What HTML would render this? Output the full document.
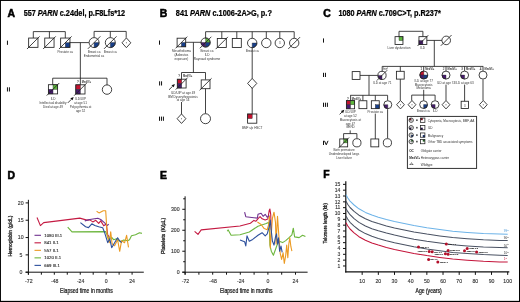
<!DOCTYPE html>
<html><head><meta charset="utf-8"><style>
html,body{margin:0;padding:0;background:#fff;}
body{width:520px;height:302px;overflow:hidden;}
svg{display:block;font-family:"Liberation Sans",sans-serif;will-change:transform;}
</style></head><body>
<svg width="520" height="302" viewBox="0 0 520 302">
<rect x="0" y="0" width="520" height="302" fill="#fff"/>
<text x="7.40" y="16.50" font-size="10.4" text-anchor="start" font-weight="bold" font-style="normal" fill="#000" stroke="#000" stroke-width="0.55">A</text>
<text x="23.70" y="15.90" font-size="8.2" text-anchor="start" font-weight="bold" fill="#000" textLength="101.4" lengthAdjust="spacingAndGlyphs" stroke="#000" stroke-width="0.22">557 <tspan font-style="italic">PARN</tspan> c.24del, p.F8Lfs*12</text>
<text x="159.70" y="16.60" font-size="10.4" text-anchor="start" font-weight="bold" font-style="normal" fill="#000" stroke="#000" stroke-width="0.55">B</text>
<text x="175.80" y="15.90" font-size="8.2" text-anchor="start" font-weight="bold" fill="#000" textLength="96.1" lengthAdjust="spacingAndGlyphs" stroke="#000" stroke-width="0.22">841 <tspan font-style="italic">PARN</tspan> c.1006-2A&gt;G, p.?</text>
<text x="323.20" y="16.80" font-size="10.4" text-anchor="start" font-weight="bold" font-style="normal" fill="#000" stroke="#000" stroke-width="0.55">C</text>
<text x="338.40" y="15.90" font-size="8.2" text-anchor="start" font-weight="bold" fill="#000" textLength="102.4" lengthAdjust="spacingAndGlyphs" stroke="#000" stroke-width="0.22">1080 <tspan font-style="italic">PARN</tspan> c.709C&gt;T, p.R237*</text>
<rect x="6.95" y="40.65" width="1.0" height="4.20" fill="#111"/>
<rect x="6.95" y="87.30" width="1.0" height="4.20" fill="#111"/>
<rect x="8.90" y="87.30" width="1.0" height="4.20" fill="#111"/>
<line x1="33.30" y1="31.60" x2="65.30" y2="31.60" stroke="#222" stroke-width="0.85"/>
<line x1="33.30" y1="31.60" x2="33.30" y2="38.00" stroke="#222" stroke-width="0.85"/>
<line x1="49.40" y1="31.60" x2="49.40" y2="38.00" stroke="#222" stroke-width="0.85"/>
<line x1="65.30" y1="31.60" x2="65.30" y2="38.00" stroke="#222" stroke-width="0.85"/>
<rect x="28.65" y="38.05" width="9.30" height="9.30" fill="none" stroke="#222" stroke-width="0.85"/>
<line x1="26.98" y1="49.02" x2="39.62" y2="36.38" stroke="#222" stroke-width="0.85"/>
<rect x="44.75" y="38.05" width="9.30" height="9.30" fill="none" stroke="#222" stroke-width="0.85"/>
<line x1="43.08" y1="49.02" x2="55.72" y2="36.38" stroke="#222" stroke-width="0.85"/>
<rect x="65.30" y="42.70" width="4.65" height="4.65" fill="#173f8a" stroke="#2a2a2a" stroke-width="0.4"/>
<rect x="60.65" y="38.05" width="9.30" height="9.30" fill="none" stroke="#222" stroke-width="0.85"/>
<line x1="58.98" y1="49.02" x2="71.62" y2="36.38" stroke="#222" stroke-width="0.85"/>
<line x1="69.95" y1="42.60" x2="88.90" y2="42.60" stroke="#222" stroke-width="0.85"/>
<line x1="80.35" y1="42.60" x2="80.35" y2="84.80" stroke="#222" stroke-width="0.85"/>
<line x1="94.10" y1="31.40" x2="126.20" y2="31.40" stroke="#222" stroke-width="0.85"/>
<line x1="94.10" y1="31.40" x2="94.10" y2="37.80" stroke="#222" stroke-width="0.85"/>
<line x1="110.30" y1="31.40" x2="110.30" y2="37.80" stroke="#222" stroke-width="0.85"/>
<line x1="126.20" y1="31.40" x2="126.20" y2="37.80" stroke="#222" stroke-width="0.85"/>
<circle cx="94.10" cy="42.60" r="5.00" fill="#fff" stroke="none"/>
<path d="M94.10,42.60 L99.10,42.60 A5.00,5.00 0 0 1 94.10,47.60 Z" fill="#173f8a" stroke="#2a2a2a" stroke-width="0.4"/>
<circle cx="94.10" cy="42.60" r="5.00" fill="none" stroke="#222" stroke-width="0.85"/>
<line x1="87.85" y1="48.85" x2="100.35" y2="36.35" stroke="#222" stroke-width="0.85"/>
<circle cx="110.30" cy="42.60" r="5.00" fill="#fff" stroke="none"/>
<path d="M110.30,42.60 L115.30,42.60 A5.00,5.00 0 0 1 110.30,47.60 Z" fill="#173f8a" stroke="#2a2a2a" stroke-width="0.4"/>
<circle cx="110.30" cy="42.60" r="5.00" fill="none" stroke="#222" stroke-width="0.85"/>
<line x1="104.05" y1="48.85" x2="116.55" y2="36.35" stroke="#222" stroke-width="0.85"/>
<path d="M126.40,37.90 L130.80,42.80 L126.40,47.70 L122.00,42.80 Z" fill="#fff" stroke="#222" stroke-width="0.85"/>
<circle cx="126.40" cy="42.80" r="0.55" fill="#555"/>
<text x="65.20" y="52.90" font-size="3.05" text-anchor="middle" font-weight="normal" font-style="normal" fill="#333">Prostate ca</text>
<text x="94.10" y="52.60" font-size="3.05" text-anchor="middle" font-weight="normal" font-style="normal" fill="#333">Breast ca</text>
<text x="94.00" y="56.80" font-size="3.05" text-anchor="middle" font-weight="normal" font-style="normal" fill="#333">Endometrial ca</text>
<text x="110.20" y="52.60" font-size="3.05" text-anchor="middle" font-weight="normal" font-style="normal" fill="#333">Breast ca</text>
<line x1="52.70" y1="78.20" x2="107.00" y2="78.20" stroke="#222" stroke-width="0.85"/>
<line x1="52.70" y1="78.20" x2="52.70" y2="84.80" stroke="#222" stroke-width="0.85"/>
<line x1="107.00" y1="78.20" x2="107.00" y2="85.00" stroke="#222" stroke-width="0.85"/>
<rect x="53.00" y="84.70" width="4.60" height="4.60" fill="#5cb63c" stroke="#2a2a2a" stroke-width="0.4"/>
<rect x="48.40" y="89.30" width="4.60" height="4.60" fill="#471b70" stroke="#2a2a2a" stroke-width="0.4"/>
<rect x="48.40" y="84.70" width="9.20" height="9.20" fill="none" stroke="#222" stroke-width="0.85"/>
<line x1="46.74" y1="95.56" x2="59.26" y2="83.04" stroke="#222" stroke-width="0.85"/>
<rect x="75.80" y="84.80" width="4.60" height="4.60" fill="#c4122f" stroke="#2a2a2a" stroke-width="0.4"/>
<rect x="75.80" y="89.40" width="4.60" height="4.60" fill="#471b70" stroke="#2a2a2a" stroke-width="0.4"/>
<rect x="75.80" y="84.80" width="9.20" height="9.20" fill="none" stroke="#222" stroke-width="0.85"/>
<line x1="74.14" y1="95.66" x2="86.66" y2="83.14" stroke="#222" stroke-width="0.85"/>
<circle cx="107.00" cy="89.60" r="4.70" fill="#fff" stroke="none"/>
<circle cx="107.00" cy="89.60" r="4.70" fill="none" stroke="#222" stroke-width="0.85"/>
<text x="77.95" y="82.60" font-size="3.0" text-anchor="middle" font-weight="normal" font-style="normal" fill="#333" stroke="#333" stroke-width="0.08">?</text>
<text x="81.85" y="82.60" font-size="3.0" text-anchor="start" font-weight="bold" font-style="normal" fill="#333" textLength="9.2" lengthAdjust="spacingAndGlyphs">MedV/+</text>
<text x="53.00" y="100.20" font-size="3.05" text-anchor="middle" font-weight="normal" font-style="normal" fill="#333">ILD</text>
<text x="53.00" y="104.10" font-size="3.05" text-anchor="middle" font-weight="normal" font-style="normal" fill="#333">Intellectual disability</text>
<text x="53.00" y="108.00" font-size="3.05" text-anchor="middle" font-weight="normal" font-style="normal" fill="#333">Died at age 49</text>
<text x="80.60" y="100.20" font-size="3.05" text-anchor="middle" font-weight="normal" font-style="normal" fill="#333">ILD/UIP</text>
<text x="80.60" y="104.10" font-size="3.05" text-anchor="middle" font-weight="normal" font-style="normal" fill="#333">at age 51</text>
<text x="80.60" y="108.00" font-size="3.05" text-anchor="middle" font-weight="normal" font-style="normal" fill="#333">Polycythemia at</text>
<text x="80.60" y="112.20" font-size="3.05" text-anchor="middle" font-weight="normal" font-style="normal" fill="#333">age 52</text>
<line x1="67.80" y1="102.90" x2="71.44" y2="99.26" stroke="#111" stroke-width="0.8"/>
<path d="M73.70,97.00 L72.53,100.36 L70.34,98.17 Z" fill="#111"/>
<rect x="159.00" y="40.50" width="1.0" height="4.20" fill="#111"/>
<rect x="159.10" y="81.30" width="1.0" height="4.20" fill="#111"/>
<rect x="161.05" y="81.30" width="1.0" height="4.20" fill="#111"/>
<rect x="159.00" y="116.60" width="1.0" height="4.20" fill="#111"/>
<rect x="160.95" y="116.60" width="1.0" height="4.20" fill="#111"/>
<rect x="162.90" y="116.60" width="1.0" height="4.20" fill="#111"/>
<rect x="181.40" y="42.50" width="4.30" height="4.30" fill="#173f8a" stroke="#2a2a2a" stroke-width="0.4"/>
<rect x="177.10" y="38.20" width="8.60" height="8.60" fill="none" stroke="#222" stroke-width="0.85"/>
<line x1="175.55" y1="48.35" x2="187.25" y2="36.65" stroke="#222" stroke-width="0.85"/>
<line x1="185.70" y1="42.30" x2="201.20" y2="42.30" stroke="#222" stroke-width="0.85"/>
<line x1="193.40" y1="42.30" x2="193.40" y2="72.50" stroke="#222" stroke-width="0.85"/>
<circle cx="205.60" cy="42.50" r="4.60" fill="#fff" stroke="none"/>
<path d="M205.60,42.50 L205.60,37.90 A4.60,4.60 0 0 1 210.20,42.50 Z" fill="#5cb63c" stroke="#2a2a2a" stroke-width="0.4"/>
<path d="M205.60,42.50 L205.60,47.10 A4.60,4.60 0 0 1 201.00,42.50 Z" fill="#471b70" stroke="#2a2a2a" stroke-width="0.4"/>
<path d="M205.60,42.50 L210.20,42.50 A4.60,4.60 0 0 1 205.60,47.10 Z" fill="#173f8a" stroke="#2a2a2a" stroke-width="0.4"/>
<circle cx="205.60" cy="42.50" r="4.60" fill="none" stroke="#222" stroke-width="0.85"/>
<line x1="199.85" y1="48.25" x2="211.35" y2="36.75" stroke="#222" stroke-width="0.85"/>
<line x1="205.60" y1="31.70" x2="294.20" y2="31.70" stroke="#222" stroke-width="0.85"/>
<line x1="205.60" y1="31.70" x2="205.60" y2="38.30" stroke="#222" stroke-width="0.85"/>
<line x1="221.80" y1="31.70" x2="221.80" y2="38.30" stroke="#222" stroke-width="0.85"/>
<line x1="236.80" y1="31.70" x2="236.80" y2="38.30" stroke="#222" stroke-width="0.85"/>
<line x1="252.20" y1="31.70" x2="252.20" y2="38.30" stroke="#222" stroke-width="0.85"/>
<line x1="266.30" y1="31.70" x2="266.30" y2="38.30" stroke="#222" stroke-width="0.85"/>
<line x1="279.80" y1="31.70" x2="279.80" y2="38.30" stroke="#222" stroke-width="0.85"/>
<line x1="294.20" y1="31.70" x2="294.20" y2="38.30" stroke="#222" stroke-width="0.85"/>
<rect x="217.30" y="38.50" width="9.00" height="9.00" fill="none" stroke="#222" stroke-width="0.85"/>
<line x1="215.68" y1="49.12" x2="227.92" y2="36.88" stroke="#222" stroke-width="0.85"/>
<rect x="232.30" y="38.50" width="9.00" height="9.00" fill="none" stroke="#222" stroke-width="0.85"/>
<circle cx="252.20" cy="43.00" r="4.70" fill="#fff" stroke="none"/>
<path d="M252.20,43.00 L256.90,43.00 A4.70,4.70 0 0 1 252.20,47.70 Z" fill="#173f8a" stroke="#2a2a2a" stroke-width="0.4"/>
<circle cx="252.20" cy="43.00" r="4.70" fill="none" stroke="#222" stroke-width="0.85"/>
<circle cx="266.30" cy="43.00" r="4.70" fill="#fff" stroke="none"/>
<circle cx="266.30" cy="43.00" r="4.70" fill="none" stroke="#222" stroke-width="0.85"/>
<circle cx="279.80" cy="43.00" r="4.70" fill="#fff" stroke="none"/>
<circle cx="279.80" cy="43.00" r="4.70" fill="none" stroke="#222" stroke-width="0.85"/>
<text x="279.80" y="44.20" font-size="2.8" text-anchor="middle" font-weight="normal" font-style="normal" fill="#333">3</text>
<circle cx="294.20" cy="43.00" r="4.70" fill="#fff" stroke="none"/>
<circle cx="294.20" cy="43.00" r="4.70" fill="none" stroke="#222" stroke-width="0.85"/>
<line x1="288.32" y1="48.88" x2="300.07" y2="37.12" stroke="#222" stroke-width="0.85"/>
<text x="181.40" y="52.00" font-size="3.05" text-anchor="middle" font-weight="normal" font-style="normal" fill="#333">Mesothelioma</text>
<text x="181.40" y="55.90" font-size="3.05" text-anchor="middle" font-weight="normal" font-style="normal" fill="#333">(Asbestos</text>
<text x="181.40" y="59.80" font-size="3.05" text-anchor="middle" font-weight="normal" font-style="normal" fill="#333">exposure)</text>
<text x="207.00" y="52.00" font-size="3.05" text-anchor="middle" font-weight="normal" font-style="normal" fill="#333">Breast ca</text>
<text x="207.00" y="55.90" font-size="3.05" text-anchor="middle" font-weight="normal" font-style="normal" fill="#333">ILD</text>
<text x="207.00" y="59.80" font-size="3.05" text-anchor="middle" font-weight="normal" font-style="normal" fill="#333">Raynaud syndrome</text>
<text x="252.20" y="52.00" font-size="3.05" text-anchor="middle" font-weight="normal" font-style="normal" fill="#333">Breast ca</text>
<line x1="181.50" y1="72.50" x2="205.50" y2="72.50" stroke="#222" stroke-width="0.85"/>
<line x1="181.50" y1="72.50" x2="181.50" y2="79.20" stroke="#222" stroke-width="0.85"/>
<line x1="205.50" y1="72.50" x2="205.50" y2="79.60" stroke="#222" stroke-width="0.85"/>
<rect x="177.30" y="79.20" width="4.40" height="4.40" fill="#c4122f" stroke="#2a2a2a" stroke-width="0.4"/>
<rect x="177.30" y="83.60" width="4.40" height="4.40" fill="#471b70" stroke="#2a2a2a" stroke-width="0.4"/>
<rect x="177.30" y="79.20" width="8.80" height="8.80" fill="none" stroke="#222" stroke-width="0.85"/>
<line x1="175.72" y1="89.58" x2="187.68" y2="77.62" stroke="#222" stroke-width="0.85"/>
<rect x="201.20" y="79.90" width="8.80" height="8.80" fill="none" stroke="#222" stroke-width="0.85"/>
<line x1="199.62" y1="90.28" x2="211.58" y2="78.32" stroke="#222" stroke-width="0.85"/>
<text x="179.10" y="76.70" font-size="3.0" text-anchor="middle" font-weight="normal" font-style="normal" fill="#333" stroke="#333" stroke-width="0.08">?</text>
<text x="183.00" y="76.70" font-size="3.0" text-anchor="start" font-weight="bold" font-style="normal" fill="#333" textLength="9.2" lengthAdjust="spacingAndGlyphs">MedV/+</text>
<line x1="169.00" y1="89.80" x2="172.62" y2="86.24" stroke="#111" stroke-width="0.8"/>
<path d="M174.90,84.00 L173.70,87.35 L171.53,85.14 Z" fill="#111"/>
<text x="183.00" y="93.60" font-size="3.05" text-anchor="middle" font-weight="normal" font-style="normal" fill="#333">ILD/UIP at age 49</text>
<text x="183.00" y="97.60" font-size="3.05" text-anchor="middle" font-weight="normal" font-style="normal" fill="#333">BM Dyserythropoiesis</text>
<text x="183.00" y="101.40" font-size="3.05" text-anchor="middle" font-weight="normal" font-style="normal" fill="#333">at age 54</text>
<line x1="181.50" y1="102.00" x2="181.50" y2="114.00" stroke="#222" stroke-width="0.85"/>
<line x1="205.50" y1="88.70" x2="205.50" y2="113.60" stroke="#222" stroke-width="0.85"/>
<path d="M181.50,113.95 L185.90,118.70 L181.50,123.45 L177.10,118.70 Z" fill="#fff" stroke="#222" stroke-width="0.85"/>
<circle cx="181.50" cy="118.70" r="0.55" fill="#555"/>
<circle cx="205.50" cy="118.70" r="5.00" fill="#fff" stroke="none"/>
<circle cx="205.50" cy="118.70" r="5.00" fill="none" stroke="#222" stroke-width="0.85"/>
<line x1="252.20" y1="47.70" x2="252.20" y2="78.80" stroke="#222" stroke-width="0.85"/>
<path d="M252.20,78.43 L256.80,83.40 L252.20,88.37 L247.60,83.40 Z" fill="#fff" stroke="#222" stroke-width="0.85"/>
<line x1="252.20" y1="88.00" x2="252.20" y2="114.00" stroke="#222" stroke-width="0.85"/>
<rect x="247.60" y="114.00" width="4.60" height="4.60" fill="#c4122f" stroke="#2a2a2a" stroke-width="0.4"/>
<rect x="247.60" y="114.00" width="9.20" height="9.20" fill="none" stroke="#222" stroke-width="0.85"/>
<text x="252.20" y="129.00" font-size="3.05" text-anchor="middle" font-weight="normal" font-style="normal" fill="#333">BMF s/p HSCT</text>
<rect x="323.00" y="38.40" width="1.0" height="4.20" fill="#111"/>
<rect x="323.00" y="72.80" width="1.0" height="4.20" fill="#111"/>
<rect x="324.95" y="72.80" width="1.0" height="4.20" fill="#111"/>
<rect x="323.00" y="102.70" width="1.0" height="4.20" fill="#111"/>
<rect x="324.95" y="102.70" width="1.0" height="4.20" fill="#111"/>
<rect x="326.90" y="102.70" width="1.0" height="4.20" fill="#111"/>
<rect x="323.00" y="140.80" width="1.0" height="4.20" fill="#111"/>
<path d="M324.45,140.80 L326.25,144.80 L328.05,140.80" fill="none" stroke="#111" stroke-width="1.0"/>
<line x1="399.00" y1="31.30" x2="422.90" y2="31.30" stroke="#222" stroke-width="0.85"/>
<line x1="399.00" y1="31.30" x2="399.00" y2="36.60" stroke="#222" stroke-width="0.85"/>
<line x1="422.90" y1="31.30" x2="422.90" y2="36.60" stroke="#222" stroke-width="0.85"/>
<rect x="399.00" y="36.65" width="3.95" height="3.95" fill="#5cb63c" stroke="#2a2a2a" stroke-width="0.4"/>
<rect x="395.05" y="36.65" width="7.90" height="7.90" fill="none" stroke="#222" stroke-width="0.85"/>
<rect x="418.95" y="40.60" width="3.95" height="3.95" fill="#471b70" stroke="#2a2a2a" stroke-width="0.4"/>
<rect x="418.95" y="36.65" width="7.90" height="7.90" fill="none" stroke="#222" stroke-width="0.85"/>
<line x1="417.53" y1="45.97" x2="428.27" y2="35.23" stroke="#222" stroke-width="0.85"/>
<line x1="426.90" y1="40.40" x2="442.00" y2="40.40" stroke="#222" stroke-width="0.85"/>
<circle cx="446.20" cy="40.40" r="4.30" fill="#fff" stroke="none"/>
<circle cx="446.20" cy="40.40" r="4.30" fill="none" stroke="#222" stroke-width="0.85"/>
<line x1="440.82" y1="45.77" x2="451.57" y2="35.02" stroke="#222" stroke-width="0.85"/>
<line x1="434.30" y1="40.40" x2="434.30" y2="66.40" stroke="#222" stroke-width="0.85"/>
<text x="399.00" y="48.50" font-size="3.05" text-anchor="middle" font-weight="normal" font-style="normal" fill="#333">Liver dysfunction</text>
<text x="422.70" y="48.50" font-size="3.05" text-anchor="middle" font-weight="normal" font-style="normal" fill="#333">ILD</text>
<line x1="382.20" y1="66.40" x2="483.20" y2="66.40" stroke="#222" stroke-width="0.85"/>
<rect x="352.20" y="71.60" width="7.80" height="7.80" fill="none" stroke="#222" stroke-width="0.85"/>
<line x1="360.00" y1="75.40" x2="377.90" y2="75.40" stroke="#222" stroke-width="0.85"/>
<circle cx="382.00" cy="75.40" r="4.10" fill="#fff" stroke="none"/>
<path d="M382.00,75.40 L382.00,79.50 A4.10,4.10 0 0 1 377.90,75.40 Z" fill="#471b70" stroke="#2a2a2a" stroke-width="0.4"/>
<circle cx="382.00" cy="75.40" r="4.10" fill="none" stroke="#222" stroke-width="0.85"/>
<line x1="376.88" y1="80.53" x2="387.12" y2="70.28" stroke="#222" stroke-width="0.85"/>
<line x1="382.20" y1="66.40" x2="382.20" y2="71.10" stroke="#222" stroke-width="0.85"/>
<line x1="369.00" y1="75.40" x2="369.00" y2="95.30" stroke="#222" stroke-width="0.85"/>
<line x1="400.30" y1="66.40" x2="400.30" y2="71.30" stroke="#222" stroke-width="0.85"/>
<rect x="396.40" y="71.30" width="7.80" height="7.80" fill="none" stroke="#222" stroke-width="0.85"/>
<line x1="400.30" y1="79.10" x2="400.30" y2="100.60" stroke="#222" stroke-width="0.85"/>
<line x1="423.70" y1="66.40" x2="423.70" y2="70.90" stroke="#222" stroke-width="0.85"/>
<line x1="446.00" y1="66.40" x2="446.00" y2="70.90" stroke="#222" stroke-width="0.85"/>
<line x1="464.60" y1="66.40" x2="464.60" y2="70.90" stroke="#222" stroke-width="0.85"/>
<line x1="483.00" y1="66.40" x2="483.00" y2="70.90" stroke="#222" stroke-width="0.85"/>
<circle cx="423.80" cy="75.00" r="4.00" fill="#fff" stroke="none"/>
<path d="M423.80,75.00 L419.80,75.00 A4.00,4.00 0 0 1 423.80,71.00 Z" fill="#c4122f" stroke="#2a2a2a" stroke-width="0.4"/>
<path d="M423.80,75.00 L423.80,79.00 A4.00,4.00 0 0 1 419.80,75.00 Z" fill="#471b70" stroke="#2a2a2a" stroke-width="0.4"/>
<path d="M423.80,75.00 L427.80,75.00 A4.00,4.00 0 0 1 423.80,79.00 Z" fill="#173f8a" stroke="#2a2a2a" stroke-width="0.4"/>
<circle cx="423.80" cy="75.00" r="4.00" fill="none" stroke="#222" stroke-width="0.85"/>
<circle cx="446.00" cy="75.10" r="4.00" fill="#fff" stroke="none"/>
<path d="M446.00,75.10 L446.00,79.10 A4.00,4.00 0 0 1 442.00,75.10 Z" fill="#471b70" stroke="#2a2a2a" stroke-width="0.4"/>
<circle cx="446.00" cy="75.10" r="4.00" fill="none" stroke="#222" stroke-width="0.85"/>
<circle cx="464.60" cy="75.10" r="4.00" fill="#fff" stroke="none"/>
<path d="M464.60,75.10 L464.60,79.10 A4.00,4.00 0 0 1 460.60,75.10 Z" fill="#471b70" stroke="#2a2a2a" stroke-width="0.4"/>
<circle cx="464.60" cy="75.10" r="4.00" fill="none" stroke="#222" stroke-width="0.85"/>
<circle cx="483.00" cy="75.10" r="4.00" fill="#fff" stroke="none"/>
<circle cx="483.00" cy="75.10" r="4.00" fill="none" stroke="#222" stroke-width="0.85"/>
<rect x="383.6" y="66.9" width="3.6" height="2.7" fill="#fff" stroke="#333" stroke-width="0.3"/>
<text x="385.40" y="69.20" font-size="2.4" text-anchor="middle" font-weight="bold" font-style="normal" fill="#222">OC</text>
<text x="421.30" y="70.00" font-size="3.0" text-anchor="middle" font-weight="normal" font-style="normal" fill="#333" stroke="#333" stroke-width="0.08">1</text>
<text x="425.20" y="70.00" font-size="3.0" text-anchor="start" font-weight="bold" font-style="normal" fill="#333" textLength="9.2" lengthAdjust="spacingAndGlyphs">MedV/+</text>
<text x="443.60" y="70.00" font-size="3.0" text-anchor="middle" font-weight="normal" font-style="normal" fill="#333" stroke="#333" stroke-width="0.08">2</text>
<text x="447.50" y="70.00" font-size="3.0" text-anchor="start" font-weight="bold" font-style="normal" fill="#333" textLength="9.2" lengthAdjust="spacingAndGlyphs">MedV/+</text>
<text x="462.20" y="70.00" font-size="3.0" text-anchor="middle" font-weight="normal" font-style="normal" fill="#333" stroke="#333" stroke-width="0.08">3</text>
<text x="466.10" y="70.00" font-size="3.0" text-anchor="start" font-weight="bold" font-style="normal" fill="#333" textLength="9.2" lengthAdjust="spacingAndGlyphs">MedV/+</text>
<text x="480.60" y="70.00" font-size="3.0" text-anchor="middle" font-weight="normal" font-style="normal" fill="#333" stroke="#333" stroke-width="0.08">4</text>
<text x="484.50" y="70.00" font-size="3.0" text-anchor="start" font-weight="bold" font-style="normal" fill="#333" textLength="9.2" lengthAdjust="spacingAndGlyphs">MedV/+</text>
<text x="382.30" y="83.60" font-size="3.05" text-anchor="middle" font-weight="normal" font-style="normal" fill="#333">ILD at age 71</text>
<text x="423.70" y="81.90" font-size="3.05" text-anchor="middle" font-weight="normal" font-style="normal" fill="#333">ILD at age 77</text>
<text x="423.70" y="85.70" font-size="3.05" text-anchor="middle" font-weight="normal" font-style="normal" fill="#333">Macrocytosis</text>
<text x="423.70" y="89.40" font-size="3.05" text-anchor="middle" font-weight="normal" font-style="normal" fill="#333">Melanoma</text>
<text x="446.00" y="83.90" font-size="3.05" text-anchor="middle" font-weight="normal" font-style="normal" fill="#333">ILD at age 74</text>
<text x="464.60" y="83.90" font-size="3.05" text-anchor="middle" font-weight="normal" font-style="normal" fill="#333">ILD at age 63</text>
<line x1="446.00" y1="84.60" x2="446.00" y2="100.60" stroke="#222" stroke-width="0.85"/>
<line x1="464.60" y1="84.60" x2="464.60" y2="101.20" stroke="#222" stroke-width="0.85"/>
<line x1="483.00" y1="79.50" x2="483.00" y2="100.40" stroke="#222" stroke-width="0.85"/>
<line x1="423.70" y1="89.80" x2="423.70" y2="100.70" stroke="#222" stroke-width="0.85"/>
<line x1="411.70" y1="95.10" x2="435.10" y2="95.10" stroke="#222" stroke-width="0.85"/>
<line x1="411.70" y1="95.10" x2="411.70" y2="100.60" stroke="#222" stroke-width="0.85"/>
<line x1="435.10" y1="95.10" x2="435.10" y2="100.40" stroke="#222" stroke-width="0.85"/>
<line x1="350.30" y1="95.30" x2="387.60" y2="95.30" stroke="#222" stroke-width="0.85"/>
<line x1="350.60" y1="95.30" x2="350.60" y2="100.60" stroke="#222" stroke-width="0.85"/>
<line x1="362.90" y1="95.30" x2="362.90" y2="100.60" stroke="#222" stroke-width="0.85"/>
<line x1="375.30" y1="95.30" x2="375.30" y2="100.60" stroke="#222" stroke-width="0.85"/>
<line x1="387.60" y1="95.30" x2="387.60" y2="100.60" stroke="#222" stroke-width="0.85"/>
<rect x="346.40" y="100.60" width="4.10" height="4.10" fill="#c4122f" stroke="#2a2a2a" stroke-width="0.4"/>
<rect x="350.50" y="100.60" width="4.10" height="4.10" fill="#5cb63c" stroke="#2a2a2a" stroke-width="0.4"/>
<rect x="346.40" y="104.70" width="4.10" height="4.10" fill="#471b70" stroke="#2a2a2a" stroke-width="0.4"/>
<rect x="346.40" y="100.60" width="8.20" height="8.20" fill="none" stroke="#222" stroke-width="0.85"/>
<rect x="358.95" y="100.75" width="7.90" height="7.90" fill="none" stroke="#222" stroke-width="0.85"/>
<rect x="375.30" y="104.70" width="3.95" height="3.95" fill="#173f8a" stroke="#2a2a2a" stroke-width="0.4"/>
<rect x="371.35" y="100.75" width="7.90" height="7.90" fill="none" stroke="#222" stroke-width="0.85"/>
<circle cx="387.80" cy="104.70" r="4.00" fill="#fff" stroke="none"/>
<path d="M387.80,104.70 L387.80,108.70 A4.00,4.00 0 0 1 383.80,104.70 Z" fill="#471b70" stroke="#2a2a2a" stroke-width="0.4"/>
<circle cx="387.80" cy="104.70" r="4.00" fill="none" stroke="#222" stroke-width="0.85"/>
<text x="347.90" y="99.90" font-size="3.0" text-anchor="middle" font-weight="normal" font-style="normal" fill="#333" stroke="#333" stroke-width="0.08">?</text>
<text x="351.80" y="99.90" font-size="3.0" text-anchor="start" font-weight="bold" font-style="normal" fill="#333" textLength="9.2" lengthAdjust="spacingAndGlyphs">MedV/+</text>
<path d="M400.50,100.49 L404.40,104.70 L400.50,108.91 L396.60,104.70 Z" fill="#fff" stroke="#222" stroke-width="0.85"/>
<circle cx="400.50" cy="104.70" r="0.55" fill="#555"/>
<path d="M412.00,100.49 L415.90,104.70 L412.00,108.91 L408.10,104.70 Z" fill="#fff" stroke="#222" stroke-width="0.85"/>
<circle cx="412.00" cy="104.70" r="0.55" fill="#555"/>
<circle cx="423.60" cy="104.60" r="3.90" fill="#fff" stroke="none"/>
<path d="M423.60,104.60 L427.50,104.60 A3.90,3.90 0 0 1 423.60,108.50 Z" fill="#173f8a" stroke="#2a2a2a" stroke-width="0.4"/>
<circle cx="423.60" cy="104.60" r="3.90" fill="none" stroke="#222" stroke-width="0.85"/>
<circle cx="435.10" cy="104.60" r="3.90" fill="#fff" stroke="none"/>
<path d="M435.10,104.60 L435.10,108.50 A3.90,3.90 0 0 1 431.20,104.60 Z" fill="#471b70" stroke="#2a2a2a" stroke-width="0.4"/>
<circle cx="435.10" cy="104.60" r="3.90" fill="none" stroke="#222" stroke-width="0.85"/>
<path d="M446.00,100.49 L449.90,104.70 L446.00,108.91 L442.10,104.70 Z" fill="#fff" stroke="#222" stroke-width="0.85"/>
<circle cx="446.00" cy="104.70" r="0.55" fill="#555"/>
<rect x="461.15" y="101.25" width="7.30" height="7.30" fill="none" stroke="#222" stroke-width="0.85"/>
<text x="464.80" y="106.50" font-size="2.8" text-anchor="middle" font-weight="normal" font-style="normal" fill="#333">3</text>
<path d="M483.30,100.49 L487.20,104.70 L483.30,108.91 L479.40,104.70 Z" fill="#fff" stroke="#222" stroke-width="0.85"/>
<circle cx="483.30" cy="104.70" r="0.55" fill="#555"/>
<text x="423.30" y="111.60" font-size="3.05" text-anchor="middle" font-weight="normal" font-style="normal" fill="#333">Breast ca</text>
<text x="435.10" y="111.60" font-size="3.05" text-anchor="middle" font-weight="normal" font-style="normal" fill="#333">ILD</text>
<line x1="339.60" y1="114.40" x2="342.01" y2="112.04" stroke="#111" stroke-width="0.8"/>
<path d="M344.30,109.80 L343.10,113.15 L340.93,110.93 Z" fill="#111"/>
<text x="350.40" y="113.00" font-size="3.05" text-anchor="middle" font-weight="normal" font-style="normal" fill="#333">ILD/UIP</text>
<text x="350.40" y="116.85" font-size="3.05" text-anchor="middle" font-weight="normal" font-style="normal" fill="#333">at age 52</text>
<text x="350.40" y="120.70" font-size="3.05" text-anchor="middle" font-weight="normal" font-style="normal" fill="#333">Macrocytosis at</text>
<text x="350.40" y="124.55" font-size="3.05" text-anchor="middle" font-weight="normal" font-style="normal" fill="#333">age 47</text>
<text x="350.40" y="128.40" font-size="3.05" text-anchor="middle" font-weight="normal" font-style="normal" fill="#333">GERD</text>
<text x="375.30" y="112.60" font-size="3.05" text-anchor="middle" font-weight="normal" font-style="normal" fill="#333">Prostate ca</text>
<line x1="375.30" y1="113.60" x2="375.30" y2="139.00" stroke="#222" stroke-width="0.85"/>
<line x1="387.60" y1="109.20" x2="387.60" y2="138.50" stroke="#222" stroke-width="0.85"/>
<line x1="350.20" y1="130.40" x2="350.20" y2="133.60" stroke="#222" stroke-width="0.85"/>
<line x1="343.60" y1="133.60" x2="356.90" y2="133.60" stroke="#222" stroke-width="0.85"/>
<line x1="343.60" y1="133.60" x2="343.60" y2="139.00" stroke="#222" stroke-width="0.85"/>
<line x1="356.90" y1="133.60" x2="356.90" y2="138.50" stroke="#222" stroke-width="0.85"/>
<rect x="343.70" y="138.95" width="3.95" height="3.95" fill="#5cb63c" stroke="#2a2a2a" stroke-width="0.4"/>
<rect x="339.75" y="138.95" width="7.90" height="7.90" fill="none" stroke="#222" stroke-width="0.85"/>
<line x1="338.33" y1="148.27" x2="349.07" y2="137.53" stroke="#222" stroke-width="0.85"/>
<circle cx="356.90" cy="142.80" r="4.10" fill="#fff" stroke="none"/>
<circle cx="356.90" cy="142.80" r="4.10" fill="none" stroke="#222" stroke-width="0.85"/>
<rect x="370.85" y="138.95" width="7.90" height="7.90" fill="none" stroke="#222" stroke-width="0.85"/>
<circle cx="387.40" cy="142.80" r="4.10" fill="#fff" stroke="none"/>
<circle cx="387.40" cy="142.80" r="4.10" fill="none" stroke="#222" stroke-width="0.85"/>
<text x="344.00" y="151.30" font-size="3.05" text-anchor="middle" font-weight="normal" font-style="normal" fill="#333">Born premature</text>
<text x="344.00" y="155.10" font-size="3.05" text-anchor="middle" font-weight="normal" font-style="normal" fill="#333">Underdeveloped lungs</text>
<text x="344.00" y="158.90" font-size="3.05" text-anchor="middle" font-weight="normal" font-style="normal" fill="#333">Liver failure</text>
<rect x="407.4" y="116.4" width="69.2" height="52.0" fill="#fff" stroke="#2a2a2a" stroke-width="0.95"/>
<path d="M411.20,120.20 L409.00,120.20 A2.20,2.20 0 0 1 411.20,118.00 Z" fill="#7a0b1c"/>
<path d="M409.00,120.20 H413.40 M411.20,118.00 V122.40" stroke="#444" stroke-width="0.35"/>
<circle cx="411.20" cy="120.20" r="2.20" fill="none" stroke="#222" stroke-width="0.75"/>
<rect x="416.2" y="119.40" width="1.4" height="1.6" fill="#333"/>
<rect x="420.60" y="118.05" width="2.15" height="2.15" fill="#7a0b1c"/>
<rect x="420.60" y="118.05" width="4.30" height="4.30" fill="none" stroke="#222" stroke-width="0.75"/>
<text x="427.80" y="121.60" font-size="3.05" text-anchor="start" font-weight="normal" font-style="normal" fill="#333">Cytopenia, Macrocytosis, BMF, AA</text>
<path d="M411.20,127.70 L411.20,129.90 A2.20,2.20 0 0 1 409.00,127.70 Z" fill="#1c0b3c"/>
<path d="M409.00,127.70 H413.40 M411.20,125.50 V129.90" stroke="#444" stroke-width="0.35"/>
<circle cx="411.20" cy="127.70" r="2.20" fill="none" stroke="#222" stroke-width="0.75"/>
<rect x="416.2" y="126.90" width="1.4" height="1.6" fill="#333"/>
<rect x="420.60" y="127.70" width="2.15" height="2.15" fill="#1c0b3c"/>
<rect x="420.60" y="125.55" width="4.30" height="4.30" fill="none" stroke="#222" stroke-width="0.75"/>
<text x="427.80" y="129.10" font-size="3.05" text-anchor="start" font-weight="normal" font-style="normal" fill="#333">ILD</text>
<path d="M411.20,135.10 L413.40,135.10 A2.20,2.20 0 0 1 411.20,137.30 Z" fill="#102a66"/>
<path d="M409.00,135.10 H413.40 M411.20,132.90 V137.30" stroke="#444" stroke-width="0.35"/>
<circle cx="411.20" cy="135.10" r="2.20" fill="none" stroke="#222" stroke-width="0.75"/>
<rect x="416.2" y="134.30" width="1.4" height="1.6" fill="#333"/>
<rect x="422.75" y="135.10" width="2.15" height="2.15" fill="#102a66"/>
<rect x="420.60" y="132.95" width="4.30" height="4.30" fill="none" stroke="#222" stroke-width="0.75"/>
<text x="427.80" y="136.50" font-size="3.05" text-anchor="start" font-weight="normal" font-style="normal" fill="#333">Malignancy</text>
<path d="M411.20,141.60 L411.20,139.40 A2.20,2.20 0 0 1 413.40,141.60 Z" fill="#1e5e1e"/>
<path d="M409.00,141.60 H413.40 M411.20,139.40 V143.80" stroke="#444" stroke-width="0.35"/>
<circle cx="411.20" cy="141.60" r="2.20" fill="none" stroke="#222" stroke-width="0.75"/>
<rect x="416.2" y="140.80" width="1.4" height="1.6" fill="#333"/>
<rect x="422.75" y="139.45" width="2.15" height="2.15" fill="#1e5e1e"/>
<rect x="420.60" y="139.45" width="4.30" height="4.30" fill="none" stroke="#222" stroke-width="0.75"/>
<text x="427.80" y="143.00" font-size="3.05" text-anchor="start" font-weight="normal" font-style="normal" fill="#333">Other TBD associated symptoms</text>
<text x="409.20" y="151.80" font-size="3.1" text-anchor="start" font-weight="bold" font-style="normal" fill="#222">OC</text>
<text x="420.80" y="152.40" font-size="3.05" text-anchor="start" font-weight="normal" font-style="normal" fill="#333">Obligate carrier</text>
<text x="409.20" y="158.70" font-size="3.1" text-anchor="start" font-weight="bold" font-style="normal" fill="#222">MedV/+</text>
<text x="420.80" y="159.30" font-size="3.05" text-anchor="start" font-weight="normal" font-style="normal" fill="#333">Heterozygous carrier</text>
<text x="409.20" y="165.40" font-size="3.1" text-anchor="start" font-weight="bold" font-style="normal" fill="#222">+/+</text>
<text x="420.80" y="165.80" font-size="3.05" text-anchor="start" font-weight="normal" font-style="normal" fill="#333">Wildtype</text>
<text x="7.40" y="178.60" font-size="10.4" text-anchor="start" font-weight="bold" font-style="normal" fill="#000" stroke="#000" stroke-width="0.55">D</text>
<text x="159.90" y="178.60" font-size="10.4" text-anchor="start" font-weight="bold" font-style="normal" fill="#000" stroke="#000" stroke-width="0.55">E</text>
<text x="323.30" y="178.40" font-size="10.4" text-anchor="start" font-weight="bold" font-style="normal" fill="#000" stroke="#000" stroke-width="0.55">F</text>
<line x1="28.40" y1="199.80" x2="28.40" y2="274.70" stroke="#111" stroke-width="1.0"/>
<line x1="25.60" y1="272.20" x2="143.80" y2="272.20" stroke="#111" stroke-width="1.0"/>
<line x1="25.60" y1="272.20" x2="28.40" y2="272.20" stroke="#111" stroke-width="1.0"/>
<text x="22.40" y="274.05" font-size="5.2" text-anchor="end" font-weight="normal" font-style="normal" fill="#333" stroke="#333" stroke-width="0.12">0</text>
<line x1="25.60" y1="254.88" x2="28.40" y2="254.88" stroke="#111" stroke-width="1.0"/>
<text x="22.40" y="256.73" font-size="5.2" text-anchor="end" font-weight="normal" font-style="normal" fill="#333" stroke="#333" stroke-width="0.12">5</text>
<line x1="25.60" y1="237.55" x2="28.40" y2="237.55" stroke="#111" stroke-width="1.0"/>
<text x="23.60" y="239.40" font-size="5.2" text-anchor="end" font-weight="normal" font-style="normal" fill="#333" stroke="#333" stroke-width="0.12">10</text>
<line x1="25.60" y1="220.22" x2="28.40" y2="220.22" stroke="#111" stroke-width="1.0"/>
<text x="23.60" y="222.07" font-size="5.2" text-anchor="end" font-weight="normal" font-style="normal" fill="#333" stroke="#333" stroke-width="0.12">15</text>
<line x1="25.60" y1="202.90" x2="28.40" y2="202.90" stroke="#111" stroke-width="1.0"/>
<text x="23.60" y="204.75" font-size="5.2" text-anchor="end" font-weight="normal" font-style="normal" fill="#333" stroke="#333" stroke-width="0.12">20</text>
<line x1="28.40" y1="272.20" x2="28.40" y2="274.70" stroke="#111" stroke-width="1.0"/>
<line x1="41.36" y1="272.20" x2="41.36" y2="274.70" stroke="#111" stroke-width="1.0"/>
<line x1="54.32" y1="272.20" x2="54.32" y2="274.70" stroke="#111" stroke-width="1.0"/>
<line x1="67.28" y1="272.20" x2="67.28" y2="274.70" stroke="#111" stroke-width="1.0"/>
<line x1="80.24" y1="272.20" x2="80.24" y2="274.70" stroke="#111" stroke-width="1.0"/>
<line x1="93.20" y1="272.20" x2="93.20" y2="274.70" stroke="#111" stroke-width="1.0"/>
<line x1="106.16" y1="272.20" x2="106.16" y2="274.70" stroke="#111" stroke-width="1.0"/>
<line x1="119.12" y1="272.20" x2="119.12" y2="274.70" stroke="#111" stroke-width="1.0"/>
<line x1="132.08" y1="272.20" x2="132.08" y2="274.70" stroke="#111" stroke-width="1.0"/>
<text x="28.80" y="282.90" font-size="5.2" text-anchor="middle" font-weight="normal" font-style="normal" fill="#333" stroke="#333" stroke-width="0.12">-72</text>
<text x="54.72" y="282.90" font-size="5.2" text-anchor="middle" font-weight="normal" font-style="normal" fill="#333" stroke="#333" stroke-width="0.12">-48</text>
<text x="80.64" y="282.90" font-size="5.2" text-anchor="middle" font-weight="normal" font-style="normal" fill="#333" stroke="#333" stroke-width="0.12">-24</text>
<text x="106.16" y="282.90" font-size="5.2" text-anchor="middle" font-weight="normal" font-style="normal" fill="#333" stroke="#333" stroke-width="0.12">0</text>
<text x="132.08" y="282.90" font-size="5.2" text-anchor="middle" font-weight="normal" font-style="normal" fill="#333" stroke="#333" stroke-width="0.12">24</text>
<text x="86.40" y="292.90" font-size="6.3" text-anchor="middle" font-weight="normal" font-style="normal" fill="#111" textLength="52.7" lengthAdjust="spacingAndGlyphs" stroke="#111" stroke-width="0.2">Elapsed time in months</text>
<text transform="translate(11.70,236.10) rotate(-90)" font-size="6.0" text-anchor="middle" fill="#111" stroke="#111" stroke-width="0.26" textLength="41" lengthAdjust="spacingAndGlyphs">Hemoglobin (g/dL)</text>
<line x1="34.50" y1="235.30" x2="41.00" y2="235.30" stroke="#70318f" stroke-width="1.1"/>
<text x="44.30" y="236.90" font-size="4.3" text-anchor="start" font-weight="normal" font-style="normal" fill="#222" stroke="#222" stroke-width="0.1">1080 III.1</text>
<line x1="34.50" y1="242.82" x2="41.00" y2="242.82" stroke="#c41a42" stroke-width="1.1"/>
<text x="44.30" y="244.42" font-size="4.3" text-anchor="start" font-weight="normal" font-style="normal" fill="#222" stroke="#222" stroke-width="0.1">841 II.1</text>
<line x1="34.50" y1="250.34" x2="41.00" y2="250.34" stroke="#eb9a22" stroke-width="1.1"/>
<text x="44.30" y="251.94" font-size="4.3" text-anchor="start" font-weight="normal" font-style="normal" fill="#222" stroke="#222" stroke-width="0.1">557 II.1</text>
<line x1="34.50" y1="257.86" x2="41.00" y2="257.86" stroke="#6db63e" stroke-width="1.1"/>
<text x="44.30" y="259.46" font-size="4.3" text-anchor="start" font-weight="normal" font-style="normal" fill="#222" stroke="#222" stroke-width="0.1">1020 II.1</text>
<line x1="34.50" y1="265.38" x2="41.00" y2="265.38" stroke="#2c4f9c" stroke-width="1.1"/>
<text x="44.30" y="266.98" font-size="4.3" text-anchor="start" font-weight="normal" font-style="normal" fill="#222" stroke="#222" stroke-width="0.1">669 III.1</text>
<polyline points="37.00,217.50 40.40,225.60 43.70,222.60 60.00,220.60 79.80,218.10 86.80,220.10 89.80,219.90 92.80,221.90 95.80,220.30 98.70,223.40 100.70,220.90 103.70,225.80 106.30,224.00 107.70,234.80 109.70,237.70" fill="none" stroke="#c41a42" stroke-width="1.1" stroke-linejoin="round"/>
<polyline points="84.80,220.90 89.80,219.50 97.80,218.30 100.70,219.50 104.70,222.80 106.70,225.80 108.70,224.20" fill="none" stroke="#70318f" stroke-width="1.1" stroke-linejoin="round"/>
<polyline points="67.70,227.20 72.00,231.90 105.70,231.60 108.70,238.70 111.70,237.40 113.60,239.70 116.60,238.70 120.60,241.70 123.60,240.10 127.60,240.70 129.50,239.70 131.50,235.80 135.50,234.80 139.50,232.80 141.90,233.40" fill="none" stroke="#6db63e" stroke-width="1.1" stroke-linejoin="round"/>
<polyline points="96.60,211.30 99.00,212.90 103.20,210.80 105.70,210.80 106.50,223.80 107.30,236.40 109.30,242.70 110.70,231.80 112.10,243.70 114.60,245.70 117.60,239.70 119.70,251.30 121.60,240.70 124.60,242.70 126.60,235.40 128.50,247.30" fill="none" stroke="#eb9a22" stroke-width="1.1" stroke-linejoin="round"/>
<polyline points="80.40,222.60 85.60,226.80 88.50,227.60 91.80,223.80 94.80,225.40 98.70,226.80 102.70,227.80 104.70,232.80 107.70,242.70 109.70,238.70 111.70,247.70 114.60,242.70 117.60,237.80 119.60,240.70 121.60,242.70" fill="none" stroke="#2c4f9c" stroke-width="1.1" stroke-linejoin="round"/>
<line x1="185.10" y1="196.30" x2="185.10" y2="274.70" stroke="#111" stroke-width="1.0"/>
<line x1="182.30" y1="272.20" x2="307.60" y2="272.20" stroke="#111" stroke-width="1.0"/>
<line x1="182.30" y1="272.20" x2="185.10" y2="272.20" stroke="#111" stroke-width="1.0"/>
<line x1="183.20" y1="261.71" x2="185.10" y2="261.71" stroke="#111" stroke-width="1.0"/>
<line x1="182.30" y1="251.23" x2="185.10" y2="251.23" stroke="#111" stroke-width="1.0"/>
<line x1="183.20" y1="240.75" x2="185.10" y2="240.75" stroke="#111" stroke-width="1.0"/>
<line x1="182.30" y1="230.26" x2="185.10" y2="230.26" stroke="#111" stroke-width="1.0"/>
<line x1="183.20" y1="219.77" x2="185.10" y2="219.77" stroke="#111" stroke-width="1.0"/>
<line x1="182.30" y1="209.29" x2="185.10" y2="209.29" stroke="#111" stroke-width="1.0"/>
<line x1="183.20" y1="198.81" x2="185.10" y2="198.81" stroke="#111" stroke-width="1.0"/>
<text x="179.60" y="274.05" font-size="5.2" text-anchor="end" font-weight="normal" font-style="normal" fill="#333" stroke="#333" stroke-width="0.12">0</text>
<text x="179.60" y="253.08" font-size="5.2" text-anchor="end" font-weight="normal" font-style="normal" fill="#333" stroke="#333" stroke-width="0.12">100</text>
<text x="179.60" y="232.11" font-size="5.2" text-anchor="end" font-weight="normal" font-style="normal" fill="#333" stroke="#333" stroke-width="0.12">200</text>
<text x="179.60" y="211.14" font-size="5.2" text-anchor="end" font-weight="normal" font-style="normal" fill="#333" stroke="#333" stroke-width="0.12">300</text>
<line x1="185.10" y1="272.20" x2="185.10" y2="274.70" stroke="#111" stroke-width="1.0"/>
<line x1="198.90" y1="272.20" x2="198.90" y2="274.70" stroke="#111" stroke-width="1.0"/>
<line x1="212.70" y1="272.20" x2="212.70" y2="274.70" stroke="#111" stroke-width="1.0"/>
<line x1="226.50" y1="272.20" x2="226.50" y2="274.70" stroke="#111" stroke-width="1.0"/>
<line x1="240.30" y1="272.20" x2="240.30" y2="274.70" stroke="#111" stroke-width="1.0"/>
<line x1="254.10" y1="272.20" x2="254.10" y2="274.70" stroke="#111" stroke-width="1.0"/>
<line x1="267.90" y1="272.20" x2="267.90" y2="274.70" stroke="#111" stroke-width="1.0"/>
<line x1="281.70" y1="272.20" x2="281.70" y2="274.70" stroke="#111" stroke-width="1.0"/>
<line x1="295.50" y1="272.20" x2="295.50" y2="274.70" stroke="#111" stroke-width="1.0"/>
<text x="185.50" y="282.90" font-size="5.2" text-anchor="middle" font-weight="normal" font-style="normal" fill="#333" stroke="#333" stroke-width="0.12">-72</text>
<text x="213.10" y="282.90" font-size="5.2" text-anchor="middle" font-weight="normal" font-style="normal" fill="#333" stroke="#333" stroke-width="0.12">-48</text>
<text x="240.70" y="282.90" font-size="5.2" text-anchor="middle" font-weight="normal" font-style="normal" fill="#333" stroke="#333" stroke-width="0.12">-24</text>
<text x="267.90" y="282.90" font-size="5.2" text-anchor="middle" font-weight="normal" font-style="normal" fill="#333" stroke="#333" stroke-width="0.12">0</text>
<text x="295.50" y="282.90" font-size="5.2" text-anchor="middle" font-weight="normal" font-style="normal" fill="#333" stroke="#333" stroke-width="0.12">24</text>
<text x="246.30" y="292.90" font-size="6.3" text-anchor="middle" font-weight="normal" font-style="normal" fill="#111" textLength="52.7" lengthAdjust="spacingAndGlyphs" stroke="#111" stroke-width="0.2">Elapsed time in months</text>
<text transform="translate(165.40,235.90) rotate(-90)" font-size="6.0" text-anchor="middle" fill="#111" stroke="#111" stroke-width="0.26" textLength="36.4" lengthAdjust="spacingAndGlyphs">Platelets (K/µL)</text>
<polyline points="194.60,231.30 198.00,234.40 201.20,229.90 240.00,226.00 250.40,223.20 253.90,220.40 255.80,221.30 258.30,218.40 260.10,216.70 262.10,218.80 265.20,220.00 267.80,219.00 269.30,210.20 269.90,209.10 270.70,214.30 271.30,230.00" fill="none" stroke="#c41a42" stroke-width="1.1" stroke-linejoin="round"/>
<polyline points="244.60,212.10 245.80,216.70 257.40,218.10 258.00,214.30 261.10,213.20 263.10,216.30 265.20,214.30 267.20,217.30 269.30,215.30" fill="none" stroke="#70318f" stroke-width="1.1" stroke-linejoin="round"/>
<polyline points="227.20,231.30 228.20,229.90 231.10,235.20 240.00,234.80 249.30,232.00 258.00,226.20 266.20,223.50 268.30,222.50 269.30,226.60 269.90,245.10 271.30,251.20 273.40,255.30 276.00,248.00 278.50,241.00 282.60,242.60 285.70,240.60 288.80,237.90 291.90,234.80 293.30,228.20 294.60,236.90 299.10,237.60 302.60,235.20 305.40,236.60" fill="none" stroke="#6db63e" stroke-width="1.1" stroke-linejoin="round"/>
<polyline points="257.40,222.00 261.10,224.50 264.20,228.60 267.20,229.70 268.70,224.50 269.50,216.30 270.30,248.10 272.40,218.40 274.00,212.20 275.50,222.50 276.10,244.00 277.50,216.30 278.50,230.70 280.20,253.30 281.60,259.40 283.10,252.90 284.30,263.50 285.70,255.30 286.70,245.10 287.80,257.80 288.80,244.00 289.80,237.90 290.90,246.70 291.90,251.20" fill="none" stroke="#eb9a22" stroke-width="1.1" stroke-linejoin="round"/>
<polyline points="240.00,239.90 244.60,241.70 245.80,245.90 247.00,235.90 249.30,241.30 252.70,239.40 258.00,235.20 262.10,232.70 265.20,235.80 267.20,233.80 269.30,226.60 270.30,220.00 271.30,230.70 272.40,241.00 274.00,245.10 275.50,236.90 276.50,233.80 277.50,244.00 278.50,237.90 279.60,251.20 281.00,246.10 282.20,252.30" fill="none" stroke="#2c4f9c" stroke-width="1.1" stroke-linejoin="round"/>
<line x1="345.80" y1="181.30" x2="345.80" y2="272.40" stroke="#111" stroke-width="1.2"/>
<line x1="345.20" y1="271.80" x2="509.30" y2="271.80" stroke="#111" stroke-width="1.2"/>
<line x1="343.00" y1="265.97" x2="345.80" y2="265.97" stroke="#111" stroke-width="1.0"/>
<text x="340.40" y="267.77" font-size="5.0" text-anchor="end" font-weight="normal" font-style="normal" fill="#333" stroke="#333" stroke-width="0.12">1</text>
<line x1="343.00" y1="260.14" x2="345.80" y2="260.14" stroke="#111" stroke-width="1.0"/>
<text x="340.40" y="261.94" font-size="5.0" text-anchor="end" font-weight="normal" font-style="normal" fill="#333" stroke="#333" stroke-width="0.12">2</text>
<line x1="343.00" y1="254.31" x2="345.80" y2="254.31" stroke="#111" stroke-width="1.0"/>
<text x="340.40" y="256.11" font-size="5.0" text-anchor="end" font-weight="normal" font-style="normal" fill="#333" stroke="#333" stroke-width="0.12">3</text>
<line x1="343.00" y1="248.48" x2="345.80" y2="248.48" stroke="#111" stroke-width="1.0"/>
<text x="340.40" y="250.28" font-size="5.0" text-anchor="end" font-weight="normal" font-style="normal" fill="#333" stroke="#333" stroke-width="0.12">4</text>
<line x1="343.00" y1="242.65" x2="345.80" y2="242.65" stroke="#111" stroke-width="1.0"/>
<text x="340.40" y="244.45" font-size="5.0" text-anchor="end" font-weight="normal" font-style="normal" fill="#333" stroke="#333" stroke-width="0.12">5</text>
<line x1="343.00" y1="236.82" x2="345.80" y2="236.82" stroke="#111" stroke-width="1.0"/>
<text x="340.40" y="238.62" font-size="5.0" text-anchor="end" font-weight="normal" font-style="normal" fill="#333" stroke="#333" stroke-width="0.12">6</text>
<line x1="343.00" y1="230.99" x2="345.80" y2="230.99" stroke="#111" stroke-width="1.0"/>
<text x="340.40" y="232.79" font-size="5.0" text-anchor="end" font-weight="normal" font-style="normal" fill="#333" stroke="#333" stroke-width="0.12">7</text>
<line x1="343.00" y1="225.16" x2="345.80" y2="225.16" stroke="#111" stroke-width="1.0"/>
<text x="340.40" y="226.96" font-size="5.0" text-anchor="end" font-weight="normal" font-style="normal" fill="#333" stroke="#333" stroke-width="0.12">8</text>
<line x1="343.00" y1="219.33" x2="345.80" y2="219.33" stroke="#111" stroke-width="1.0"/>
<text x="340.40" y="221.13" font-size="5.0" text-anchor="end" font-weight="normal" font-style="normal" fill="#333" stroke="#333" stroke-width="0.12">9</text>
<line x1="343.00" y1="213.50" x2="345.80" y2="213.50" stroke="#111" stroke-width="1.0"/>
<text x="340.40" y="215.30" font-size="5.0" text-anchor="end" font-weight="normal" font-style="normal" fill="#333" stroke="#333" stroke-width="0.12">10</text>
<line x1="343.00" y1="207.67" x2="345.80" y2="207.67" stroke="#111" stroke-width="1.0"/>
<text x="340.40" y="209.47" font-size="5.0" text-anchor="end" font-weight="normal" font-style="normal" fill="#333" stroke="#333" stroke-width="0.12">11</text>
<line x1="343.00" y1="201.84" x2="345.80" y2="201.84" stroke="#111" stroke-width="1.0"/>
<text x="340.40" y="203.64" font-size="5.0" text-anchor="end" font-weight="normal" font-style="normal" fill="#333" stroke="#333" stroke-width="0.12">12</text>
<line x1="343.00" y1="196.01" x2="345.80" y2="196.01" stroke="#111" stroke-width="1.0"/>
<text x="340.40" y="197.81" font-size="5.0" text-anchor="end" font-weight="normal" font-style="normal" fill="#333" stroke="#333" stroke-width="0.12">13</text>
<line x1="343.00" y1="190.18" x2="345.80" y2="190.18" stroke="#111" stroke-width="1.0"/>
<text x="340.40" y="191.98" font-size="5.0" text-anchor="end" font-weight="normal" font-style="normal" fill="#333" stroke="#333" stroke-width="0.12">14</text>
<line x1="343.00" y1="184.35" x2="345.80" y2="184.35" stroke="#111" stroke-width="1.0"/>
<text x="340.40" y="186.15" font-size="5.0" text-anchor="end" font-weight="normal" font-style="normal" fill="#333" stroke="#333" stroke-width="0.12">15</text>
<line x1="362.17" y1="271.80" x2="362.17" y2="274.90" stroke="#111" stroke-width="1.0"/>
<text x="362.17" y="282.80" font-size="5.2" text-anchor="middle" font-weight="normal" font-style="normal" fill="#333" stroke="#333" stroke-width="0.12">10</text>
<line x1="378.34" y1="271.80" x2="378.34" y2="274.90" stroke="#111" stroke-width="1.0"/>
<text x="378.34" y="282.80" font-size="5.2" text-anchor="middle" font-weight="normal" font-style="normal" fill="#333" stroke="#333" stroke-width="0.12">20</text>
<line x1="394.51" y1="271.80" x2="394.51" y2="274.90" stroke="#111" stroke-width="1.0"/>
<text x="394.51" y="282.80" font-size="5.2" text-anchor="middle" font-weight="normal" font-style="normal" fill="#333" stroke="#333" stroke-width="0.12">30</text>
<line x1="410.68" y1="271.80" x2="410.68" y2="274.90" stroke="#111" stroke-width="1.0"/>
<text x="410.68" y="282.80" font-size="5.2" text-anchor="middle" font-weight="normal" font-style="normal" fill="#333" stroke="#333" stroke-width="0.12">40</text>
<line x1="426.85" y1="271.80" x2="426.85" y2="274.90" stroke="#111" stroke-width="1.0"/>
<text x="426.85" y="282.80" font-size="5.2" text-anchor="middle" font-weight="normal" font-style="normal" fill="#333" stroke="#333" stroke-width="0.12">50</text>
<line x1="443.02" y1="271.80" x2="443.02" y2="274.90" stroke="#111" stroke-width="1.0"/>
<text x="443.02" y="282.80" font-size="5.2" text-anchor="middle" font-weight="normal" font-style="normal" fill="#333" stroke="#333" stroke-width="0.12">60</text>
<line x1="459.19" y1="271.80" x2="459.19" y2="274.90" stroke="#111" stroke-width="1.0"/>
<text x="459.19" y="282.80" font-size="5.2" text-anchor="middle" font-weight="normal" font-style="normal" fill="#333" stroke="#333" stroke-width="0.12">70</text>
<line x1="475.36" y1="271.80" x2="475.36" y2="274.90" stroke="#111" stroke-width="1.0"/>
<text x="475.36" y="282.80" font-size="5.2" text-anchor="middle" font-weight="normal" font-style="normal" fill="#333" stroke="#333" stroke-width="0.12">80</text>
<line x1="491.53" y1="271.80" x2="491.53" y2="274.90" stroke="#111" stroke-width="1.0"/>
<text x="491.53" y="282.80" font-size="5.2" text-anchor="middle" font-weight="normal" font-style="normal" fill="#333" stroke="#333" stroke-width="0.12">90</text>
<line x1="507.70" y1="271.80" x2="507.70" y2="274.90" stroke="#111" stroke-width="1.0"/>
<text x="507.70" y="282.80" font-size="5.2" text-anchor="middle" font-weight="normal" font-style="normal" fill="#333" stroke="#333" stroke-width="0.12">100</text>
<text x="428.60" y="293.20" font-size="6.3" text-anchor="middle" font-weight="normal" font-style="normal" fill="#111" textLength="26.2" lengthAdjust="spacingAndGlyphs" stroke="#111" stroke-width="0.2">Age (years)</text>
<text transform="translate(326.50,223.30) rotate(-90)" font-size="6.0" text-anchor="middle" fill="#111" stroke="#111" stroke-width="0.26" textLength="40.5" lengthAdjust="spacingAndGlyphs">Telomere length (kb)</text>
<polyline points="346.00,194.80 347.62,197.80 350.04,201.10 354.08,205.00 358.94,208.80 365.40,212.40 371.87,215.10 378.34,217.20 386.43,219.50 394.51,221.50 404.21,223.60 413.91,225.60 426.85,227.70 439.79,229.50 452.72,231.20 467.27,232.40 483.44,233.40 499.62,234.00 507.70,234.20" fill="none" stroke="#6db3e8" stroke-width="1.05" stroke-linejoin="round"/>
<polyline points="346.00,201.20 347.62,204.20 350.04,207.50 354.08,211.40 358.94,215.20 365.40,218.80 371.87,221.50 378.34,223.60 386.43,225.90 394.51,227.90 404.21,230.00 413.91,232.00 426.85,234.10 439.79,235.90 452.72,237.60 467.27,238.80 483.44,239.80 499.62,240.40 507.70,240.60" fill="none" stroke="#4a5263" stroke-width="1.05" stroke-linejoin="round"/>
<polyline points="346.00,208.40 347.62,211.40 350.04,214.70 354.08,218.60 358.94,222.40 365.40,226.00 371.87,228.70 378.34,230.80 386.43,233.10 394.51,235.10 404.21,237.20 413.91,239.20 426.85,241.30 439.79,243.10 452.72,244.80 467.27,246.00 483.44,247.00 499.62,247.60 507.70,247.80" fill="none" stroke="#4a5263" stroke-width="1.05" stroke-linejoin="round"/>
<polyline points="346.00,216.00 347.62,219.00 350.04,222.30 354.08,226.20 358.94,230.00 365.40,233.60 371.87,236.30 378.34,238.40 386.43,240.70 394.51,242.70 404.21,244.80 413.91,246.80 426.85,248.90 439.79,250.70 452.72,252.40 467.27,253.60 483.44,254.60 499.62,255.20 507.70,255.40" fill="none" stroke="#4a5263" stroke-width="1.05" stroke-linejoin="round"/>
<polyline points="346.00,222.70 347.62,225.70 350.04,229.00 354.08,232.90 358.94,236.70 365.40,240.30 371.87,243.00 378.34,245.10 386.43,247.40 394.51,249.40 404.21,251.50 413.91,253.50 426.85,255.60 439.79,257.40 452.72,259.10 467.27,260.30 483.44,261.30 499.62,261.90 507.70,262.10" fill="none" stroke="#c4143a" stroke-width="1.05" stroke-linejoin="round"/>
<text x="503.80" y="232.00" font-size="3.0" fill="#4f9bd8">99<tspan font-size="1.9" dy="-1.1">th</tspan></text>
<text x="503.80" y="238.70" font-size="3.0" fill="#333">90<tspan font-size="1.9" dy="-1.1">th</tspan></text>
<text x="503.80" y="246.50" font-size="3.0" fill="#333">50<tspan font-size="1.9" dy="-1.1">th</tspan></text>
<text x="503.80" y="253.90" font-size="3.0" fill="#333">10<tspan font-size="1.9" dy="-1.1">th</tspan></text>
<text x="503.80" y="260.40" font-size="3.0" fill="#c4143a">1<tspan font-size="1.9" dy="-1.1">st</tspan></text>
<circle cx="418.50" cy="247.00" r="1.5" fill="#b30f2a"/>
<text x="420.50" y="247.85" font-size="2.3" text-anchor="start" font-weight="bold" font-style="normal" fill="#222" stroke="#222" stroke-width="0.08">669 III.1</text>
<circle cx="429.20" cy="251.50" r="1.5" fill="#b30f2a"/>
<text x="427.20" y="252.35" font-size="2.3" text-anchor="end" font-weight="bold" font-style="normal" fill="#222" stroke="#222" stroke-width="0.08">1080 III.1</text>
<circle cx="432.20" cy="251.70" r="1.5" fill="#b30f2a"/>
<text x="434.20" y="252.55" font-size="2.3" text-anchor="start" font-weight="bold" font-style="normal" fill="#222" stroke="#222" stroke-width="0.08">557 II.1</text>
<circle cx="446.30" cy="244.10" r="1.5" fill="#b30f2a"/>
<text x="448.30" y="244.95" font-size="2.3" text-anchor="start" font-weight="bold" font-style="normal" fill="#222" stroke="#222" stroke-width="0.08">841 II.1</text>
<circle cx="448.10" cy="250.40" r="1.5" fill="#b30f2a"/>
<text x="450.10" y="251.25" font-size="2.3" text-anchor="start" font-weight="bold" font-style="normal" fill="#222" stroke="#222" stroke-width="0.08">1080 III.2</text>
<circle cx="445.40" cy="253.70" r="1.5" fill="#b30f2a"/>
<text x="443.40" y="254.55" font-size="2.3" text-anchor="end" font-weight="bold" font-style="normal" fill="#222" stroke="#222" stroke-width="0.08">1020 II.1</text>
<circle cx="448.10" cy="254.20" r="1.5" fill="#b30f2a"/>
<text x="450.10" y="255.05" font-size="2.3" text-anchor="start" font-weight="bold" font-style="normal" fill="#222" stroke="#222" stroke-width="0.08">669 III.2</text>
<circle cx="464.50" cy="250.80" r="1.5" fill="#b30f2a"/>
<text x="466.50" y="251.65" font-size="2.3" text-anchor="start" font-weight="bold" font-style="normal" fill="#222" stroke="#222" stroke-width="0.08">1080 II.1</text>
<circle cx="467.20" cy="248.50" r="1.5" fill="#b30f2a"/>
<text x="469.20" y="249.35" font-size="2.3" text-anchor="start" font-weight="bold" font-style="normal" fill="#222" stroke="#222" stroke-width="0.08">1080 II.2</text>
<circle cx="476.60" cy="251.90" r="1.5" fill="#b30f2a"/>
<text x="478.60" y="252.75" font-size="2.3" text-anchor="start" font-weight="bold" font-style="normal" fill="#222" stroke="#222" stroke-width="0.08">1080 II.3</text>
<circle cx="428.60" cy="259.50" r="1.5" fill="#b30f2a"/>
<text x="430.60" y="260.35" font-size="2.3" text-anchor="start" font-weight="bold" font-style="normal" fill="#222" stroke="#222" stroke-width="0.08">841 I.1</text>
<circle cx="437.80" cy="262.00" r="1.5" fill="#b30f2a"/>
<text x="439.80" y="262.85" font-size="2.3" text-anchor="start" font-weight="bold" font-style="normal" fill="#222" stroke="#222" stroke-width="0.08">1020 I.1</text>
<rect x="0" y="0" width="520" height="0.95" fill="#000"/><rect x="0" y="0" width="0.95" height="302" fill="#000"/><rect x="519.0" y="0" width="1.0" height="302" fill="#000"/><rect x="0" y="300.85" width="520" height="1.15" fill="#000"/>
</svg>
</body></html>
